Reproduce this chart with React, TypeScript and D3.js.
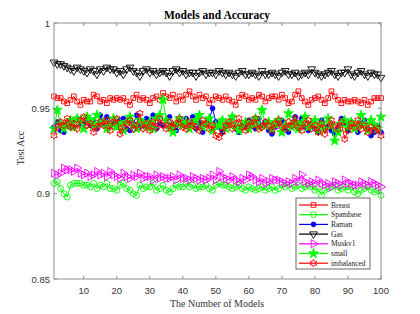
import React from "react";
import * as d3 from "d3";

const models = d3.range(1, 101);

const gas = [
  0.977, 0.976, 0.976, 0.975, 0.974, 0.973, 0.972, 0.974, 0.973, 0.972,
  0.971, 0.973, 0.972, 0.970, 0.973, 0.972, 0.974, 0.973, 0.973, 0.971,
  0.972, 0.970, 0.973, 0.974, 0.972, 0.971, 0.969, 0.972, 0.973, 0.971,
  0.972, 0.970, 0.971, 0.972, 0.971, 0.969, 0.972, 0.973, 0.971, 0.972,
  0.970, 0.971, 0.971, 0.969, 0.971, 0.972, 0.970, 0.971, 0.971, 0.970,
  0.972, 0.971, 0.970, 0.971, 0.970, 0.969, 0.971, 0.972, 0.970, 0.970,
  0.971, 0.970, 0.969, 0.972, 0.970, 0.970, 0.971, 0.970, 0.969, 0.971,
  0.972, 0.970, 0.970, 0.971, 0.969, 0.970, 0.971, 0.970, 0.973, 0.971,
  0.970, 0.969, 0.970, 0.971, 0.972, 0.970, 0.969, 0.971, 0.971, 0.973,
  0.970, 0.969, 0.971, 0.972, 0.970, 0.969, 0.971, 0.970, 0.970, 0.968,
];

const breast = [
  0.957, 0.956, 0.956, 0.954, 0.953, 0.955, 0.957, 0.954, 0.952, 0.955,
  0.954, 0.954, 0.958, 0.957, 0.954, 0.955, 0.953, 0.956, 0.955, 0.956,
  0.955, 0.956, 0.954, 0.952, 0.956, 0.958, 0.955, 0.956, 0.955, 0.953,
  0.956, 0.957, 0.955, 0.959, 0.957, 0.956, 0.958, 0.954, 0.957, 0.955,
  0.958, 0.960, 0.957, 0.955, 0.958, 0.956, 0.957, 0.953, 0.955, 0.957,
  0.956, 0.955, 0.957, 0.955, 0.954, 0.952, 0.956, 0.958, 0.957, 0.955,
  0.956, 0.955, 0.958, 0.957, 0.954, 0.956, 0.957, 0.957, 0.955, 0.958,
  0.956, 0.953, 0.954, 0.958, 0.960, 0.956, 0.954, 0.952, 0.955, 0.956,
  0.957, 0.955, 0.953, 0.956, 0.960, 0.957, 0.955, 0.953, 0.955, 0.954,
  0.954, 0.955, 0.954, 0.953, 0.955, 0.952, 0.954, 0.956, 0.956, 0.956,
];

const raman = [
  0.939, 0.942, 0.937, 0.936, 0.941, 0.939, 0.943, 0.944, 0.941, 0.941,
  0.944, 0.940, 0.943, 0.938, 0.946, 0.941, 0.945, 0.940, 0.942, 0.939,
  0.943, 0.944, 0.938, 0.937, 0.941, 0.946, 0.939, 0.940, 0.944, 0.942,
  0.946, 0.938, 0.941, 0.940, 0.943, 0.945, 0.939, 0.937, 0.942, 0.941,
  0.944, 0.940, 0.945, 0.938, 0.942, 0.936, 0.941, 0.943, 0.950, 0.942,
  0.939, 0.936, 0.940, 0.941, 0.945, 0.938, 0.936, 0.940, 0.939, 0.943,
  0.941, 0.938, 0.944, 0.940, 0.942, 0.937, 0.935, 0.939, 0.941, 0.943,
  0.938, 0.936, 0.940, 0.945, 0.941, 0.944, 0.939, 0.937, 0.941, 0.938,
  0.936, 0.943, 0.938, 0.940, 0.937, 0.935, 0.939, 0.944, 0.941, 0.937,
  0.942, 0.939, 0.936, 0.941, 0.943, 0.938, 0.934, 0.936, 0.940, 0.936,
];

const small = [
  0.938, 0.949, 0.941, 0.938, 0.940, 0.943, 0.939, 0.944, 0.942, 0.938,
  0.945, 0.943, 0.940, 0.946, 0.941, 0.942, 0.938, 0.940, 0.944, 0.939,
  0.941, 0.937, 0.942, 0.945, 0.940, 0.938, 0.943, 0.941, 0.939, 0.942,
  0.938, 0.944, 0.946, 0.955, 0.943, 0.939, 0.936, 0.941, 0.944, 0.940,
  0.942, 0.938, 0.940, 0.943, 0.946, 0.939, 0.941, 0.944, 0.937, 0.940,
  0.940, 0.943, 0.938, 0.941, 0.945, 0.939, 0.937, 0.940, 0.942, 0.938,
  0.941, 0.944, 0.939, 0.949, 0.940, 0.942, 0.938, 0.941, 0.943, 0.936,
  0.940, 0.947, 0.939, 0.942, 0.938, 0.941, 0.945, 0.939, 0.940, 0.943,
  0.937, 0.941, 0.938, 0.944, 0.940, 0.931, 0.936, 0.941, 0.943, 0.939,
  0.942, 0.938, 0.940, 0.946, 0.941, 0.937, 0.943, 0.940, 0.938, 0.945,
];

const imbalanced = [
  0.934, 0.939, 0.942, 0.940, 0.944, 0.939, 0.941, 0.938, 0.943, 0.945,
  0.940, 0.941, 0.936, 0.939, 0.942, 0.940, 0.943, 0.937, 0.942, 0.944,
  0.935, 0.939, 0.941, 0.943, 0.938, 0.940, 0.947, 0.938, 0.941, 0.937,
  0.942, 0.939, 0.944, 0.940, 0.938, 0.942, 0.939, 0.941, 0.944, 0.939,
  0.938, 0.942, 0.940, 0.939, 0.937, 0.943, 0.941, 0.938, 0.940, 0.934,
  0.933, 0.936, 0.940, 0.942, 0.938, 0.941, 0.944, 0.939, 0.937, 0.942,
  0.940, 0.944, 0.938, 0.939, 0.942, 0.940, 0.937, 0.941, 0.943, 0.939,
  0.938, 0.942, 0.940, 0.944, 0.939, 0.937, 0.941, 0.943, 0.938, 0.940,
  0.936, 0.941, 0.935, 0.939, 0.943, 0.940, 0.938, 0.942, 0.932, 0.937,
  0.941, 0.939, 0.943, 0.938, 0.940, 0.936, 0.939, 0.937, 0.938, 0.934,
];

const muskv1 = [
  0.912, 0.911, 0.912, 0.915, 0.914, 0.914, 0.913, 0.915, 0.912, 0.911,
  0.912, 0.910, 0.911, 0.913, 0.911, 0.912, 0.910, 0.913, 0.911, 0.910,
  0.909, 0.912, 0.910, 0.909, 0.911, 0.910, 0.912, 0.909, 0.910, 0.910,
  0.908, 0.911, 0.909, 0.910, 0.909, 0.909, 0.910, 0.908, 0.911, 0.909,
  0.909, 0.908, 0.910, 0.909, 0.908, 0.909, 0.908, 0.909, 0.911, 0.908,
  0.913, 0.910, 0.909, 0.908, 0.910, 0.908, 0.907, 0.909, 0.908, 0.911,
  0.910, 0.908, 0.907, 0.909, 0.906, 0.907, 0.909, 0.908, 0.908, 0.907,
  0.906, 0.907, 0.906, 0.909, 0.907, 0.911, 0.907, 0.906, 0.907, 0.906,
  0.908, 0.906, 0.905, 0.906, 0.904, 0.907, 0.906, 0.905, 0.908, 0.906,
  0.906, 0.905, 0.905, 0.907, 0.906, 0.905, 0.907, 0.906, 0.905, 0.904,
];

const spambase = [
  0.906, 0.907, 0.903, 0.900, 0.898, 0.905, 0.906, 0.906, 0.906, 0.905,
  0.905, 0.904, 0.906, 0.903, 0.905, 0.904, 0.906, 0.903, 0.903, 0.902,
  0.905, 0.906, 0.903, 0.902, 0.900, 0.899, 0.905, 0.903, 0.904, 0.904,
  0.906, 0.902, 0.903, 0.905, 0.902, 0.901, 0.903, 0.905, 0.904, 0.904,
  0.906, 0.904, 0.905, 0.903, 0.904, 0.904, 0.905, 0.903, 0.902, 0.905,
  0.906, 0.905, 0.905, 0.904, 0.903, 0.904, 0.905, 0.903, 0.902, 0.904,
  0.903, 0.902, 0.903, 0.904, 0.902, 0.903, 0.904, 0.902, 0.903, 0.905,
  0.904, 0.905, 0.903, 0.904, 0.905, 0.903, 0.904, 0.905, 0.904, 0.902,
  0.903, 0.899, 0.902, 0.903, 0.904, 0.905, 0.902, 0.903, 0.904, 0.902,
  0.904, 0.901, 0.900, 0.902, 0.903, 0.904, 0.902, 0.901, 0.902, 0.899,
];

const xTicks = [10, 20, 30, 40, 50, 60, 70, 80, 90, 100];
const yTicks = [0.85, 0.9, 0.95, 1];
const yTickLabels = ["0.85", "0.9", "0.95", "1"];

// six-pointed star, like matlab's 'h' marker
const hexagram = {
  draw(ctx: any, size: number) {
    const r = Math.sqrt(size / 2.2);
    const ri = r * 0.58;
    for (let i = 0; i < 12; i++) {
      const a = (i * Math.PI) / 6 - Math.PI / 2;
      const rr = i % 2 === 0 ? r : ri;
      const x = rr * Math.cos(a);
      const y = rr * Math.sin(a);
      if (i === 0) ctx.moveTo(x, y);
      else ctx.lineTo(x, y);
    }
    ctx.closePath();
  },
};

const series = [
  { name: "Breast", values: breast, color: "#ff0000", sym: d3.symbolSquare, size: 22, rot: 0, fill: false },
  { name: "Spambase", values: spambase, color: "#00ff00", sym: d3.symbolCircle, size: 28, rot: 0, fill: false },
  { name: "Raman", values: raman, color: "#0000ff", sym: d3.symbolCircle, size: 18, rot: 0, fill: true },
  { name: "Gas", values: gas, color: "#000000", sym: d3.symbolTriangle, size: 26, rot: 180, fill: false },
  { name: "Muskv1", values: muskv1, color: "#ff00ff", sym: d3.symbolTriangle, size: 28, rot: 90, fill: false },
  { name: "small", values: small, color: "#00ff00", sym: d3.symbolStar, size: 30, rot: 0, fill: true },
  { name: "imbalanced", values: imbalanced, color: "#ff0000", sym: hexagram, size: 30, rot: 0, fill: false },
];

const W = 420;
const H = 314;
const m = { left: 54, right: 381, top: 23, bottom: 279 };
const axisColor = "#8c8c8c";

export default function App() {
  const x = d3.scaleLinear().domain([1, 100]).range([m.left, m.right]);
  const y = d3.scaleLinear().domain([0.85, 1]).range([m.bottom, m.top]);
  const line = d3.line<number>().x((_, i) => x(models[i])).y((d) => y(d));

  const legX = 296;
  const legY = 198;
  const legW = 74;
  const legH = 71;
  const rowH = 9.7;

  return (
    <svg width={W} height={H} style={{ position: "absolute", left: 0, top: 0, background: "#fff" }}>
      <rect x={0} y={0} width={W} height={H} fill="#fff" />
      <text x={217} y={19} textAnchor="middle" fontFamily="Liberation Serif" fontWeight="bold" fontSize={11.5} fill="#000">
        Models and Accuracy
      </text>

      {series.map((s) => {
        const path = d3.symbol().type(s.sym as any).size(s.size)()!;
        return (
          <g key={s.name}>
            <path d={line(s.values)!} fill="none" stroke={s.color} strokeWidth={1} />
            {s.values.map((v, i) => (
              <path
                key={i}
                d={path}
                transform={`translate(${x(models[i])},${y(v)}) rotate(${s.rot})`}
                fill={s.fill ? s.color : "none"}
                stroke={s.color}
                strokeWidth={0.9}
              />
            ))}
          </g>
        );
      })}

      {/* axes box */}
      <rect x={m.left} y={m.top} width={m.right - m.left} height={m.bottom - m.top} fill="none" stroke={axisColor} strokeWidth={1} />
      {xTicks.map((t) => (
        <g key={t}>
          <line x1={x(t)} x2={x(t)} y1={m.bottom} y2={m.bottom - 3} stroke={axisColor} />
          <line x1={x(t)} x2={x(t)} y1={m.top} y2={m.top + 3} stroke={axisColor} />
          <text x={x(t)} y={294} textAnchor="middle" fontFamily="Liberation Sans" fontSize={9.5} fill="#333">
            {t}
          </text>
        </g>
      ))}
      {yTicks.map((t, i) => (
        <g key={t}>
          <line x1={m.left} x2={m.left + 3} y1={y(t)} y2={y(t)} stroke={axisColor} />
          <line x1={m.right} x2={m.right - 3} y1={y(t)} y2={y(t)} stroke={axisColor} />
          <text x={50} y={y(t) + 3.5} textAnchor="end" fontFamily="Liberation Sans" fontSize={9.5} fill="#333">
            {yTickLabels[i]}
          </text>
        </g>
      ))}

      <text x={217} y={307} textAnchor="middle" fontFamily="Liberation Serif" fontSize={10} fill="#333">
        The Number of Models
      </text>
      <text transform="translate(24,148) rotate(-90)" textAnchor="middle" fontFamily="Liberation Serif" fontSize={10} fill="#333">
        Test Acc
      </text>

      {/* legend */}
      <rect x={legX} y={legY} width={legW} height={legH} fill="#fff" stroke="#444" strokeWidth={0.8} />
      {series.map((s, i) => {
        const cy = legY + 7 + i * rowH;
        const path = d3.symbol().type(s.sym as any).size(s.size)()!;
        return (
          <g key={s.name}>
            <line x1={legX + 3} x2={legX + 32} y1={cy} y2={cy} stroke={s.color} strokeWidth={1.2} />
            <path d={path} transform={`translate(${legX + 17.5},${cy}) rotate(${s.rot})`} fill={s.fill ? s.color : "none"} stroke={s.color} strokeWidth={0.9} />
            <text x={legX + 35} y={cy + 2.6} fontFamily="Liberation Serif" fontSize={7.5} fill="#222">
              {s.name}
            </text>
          </g>
        );
      })}
    </svg>
  );
}
